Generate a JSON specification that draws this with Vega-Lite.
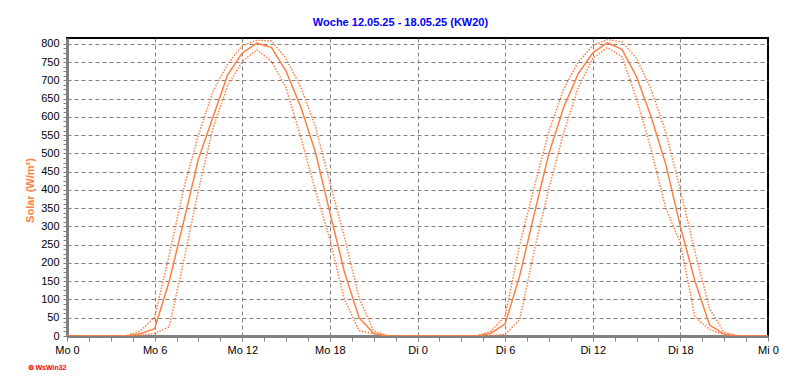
{
  "$schema": "https://vega.github.io/schema/vega-lite/v6.json",
  "width": 701,
  "height": 298,
  "autosize": {"type": "none"},
  "padding": {"left": 67, "top": 38, "right": 24, "bottom": 51},
  "background": "white",
  "config": {
    "font": "Liberation Sans",
    "view": {"stroke": "black", "strokeWidth": 2}
  },
  "title": {
    "text": "Woche 12.05.25 - 18.05.25 (KW20)",
    "color": "#0000FF",
    "fontSize": 11,
    "fontWeight": "bold",
    "font": "Liberation Sans",
    "anchor": "middle",
    "frame": "group",
    "dx": -17,
    "offset": 10
  },
  "data": {
    "values": [
      {"h": 0, "s": "Mittel", "v": 0}, {"h": 1, "s": "Mittel", "v": 0}, {"h": 2, "s": "Mittel", "v": 0}, {"h": 3, "s": "Mittel", "v": 0},
      {"h": 4, "s": "Mittel", "v": 0}, {"h": 5, "s": "Mittel", "v": 6}, {"h": 6, "s": "Mittel", "v": 20}, {"h": 7, "s": "Mittel", "v": 150},
      {"h": 8, "s": "Mittel", "v": 315}, {"h": 9, "s": "Mittel", "v": 485}, {"h": 10, "s": "Mittel", "v": 600}, {"h": 11, "s": "Mittel", "v": 715},
      {"h": 12, "s": "Mittel", "v": 775}, {"h": 13, "s": "Mittel", "v": 802}, {"h": 14, "s": "Mittel", "v": 790}, {"h": 15, "s": "Mittel", "v": 725},
      {"h": 16, "s": "Mittel", "v": 628}, {"h": 17, "s": "Mittel", "v": 505}, {"h": 18, "s": "Mittel", "v": 338}, {"h": 19, "s": "Mittel", "v": 175},
      {"h": 20, "s": "Mittel", "v": 50}, {"h": 21, "s": "Mittel", "v": 7}, {"h": 22, "s": "Mittel", "v": 0}, {"h": 23, "s": "Mittel", "v": 0},
      {"h": 24, "s": "Mittel", "v": 0}, {"h": 25, "s": "Mittel", "v": 0}, {"h": 26, "s": "Mittel", "v": 0}, {"h": 27, "s": "Mittel", "v": 0},
      {"h": 28, "s": "Mittel", "v": 0}, {"h": 29, "s": "Mittel", "v": 7}, {"h": 30, "s": "Mittel", "v": 33}, {"h": 31, "s": "Mittel", "v": 165},
      {"h": 32, "s": "Mittel", "v": 335}, {"h": 33, "s": "Mittel", "v": 500}, {"h": 34, "s": "Mittel", "v": 625}, {"h": 35, "s": "Mittel", "v": 718},
      {"h": 36, "s": "Mittel", "v": 775}, {"h": 37, "s": "Mittel", "v": 803}, {"h": 38, "s": "Mittel", "v": 785}, {"h": 39, "s": "Mittel", "v": 710},
      {"h": 40, "s": "Mittel", "v": 600}, {"h": 41, "s": "Mittel", "v": 470}, {"h": 42, "s": "Mittel", "v": 300}, {"h": 43, "s": "Mittel", "v": 150},
      {"h": 44, "s": "Mittel", "v": 30}, {"h": 45, "s": "Mittel", "v": 5}, {"h": 46, "s": "Mittel", "v": 0}, {"h": 47, "s": "Mittel", "v": 0},
      {"h": 48, "s": "Mittel", "v": 0},

      {"h": 0, "s": "Max", "v": 0}, {"h": 1, "s": "Max", "v": 0}, {"h": 2, "s": "Max", "v": 0}, {"h": 3, "s": "Max", "v": 0},
      {"h": 4, "s": "Max", "v": 0}, {"h": 5, "s": "Max", "v": 13}, {"h": 6, "s": "Max", "v": 52}, {"h": 7, "s": "Max", "v": 222},
      {"h": 8, "s": "Max", "v": 405}, {"h": 9, "s": "Max", "v": 550}, {"h": 10, "s": "Max", "v": 670}, {"h": 11, "s": "Max", "v": 745},
      {"h": 12, "s": "Max", "v": 795}, {"h": 13, "s": "Max", "v": 810}, {"h": 14, "s": "Max", "v": 808}, {"h": 15, "s": "Max", "v": 760},
      {"h": 16, "s": "Max", "v": 682}, {"h": 17, "s": "Max", "v": 575}, {"h": 18, "s": "Max", "v": 420}, {"h": 19, "s": "Max", "v": 270},
      {"h": 20, "s": "Max", "v": 105}, {"h": 21, "s": "Max", "v": 14}, {"h": 22, "s": "Max", "v": 0}, {"h": 23, "s": "Max", "v": 0},
      {"h": 24, "s": "Max", "v": 0}, {"h": 25, "s": "Max", "v": 0}, {"h": 26, "s": "Max", "v": 0}, {"h": 27, "s": "Max", "v": 0},
      {"h": 28, "s": "Max", "v": 0}, {"h": 29, "s": "Max", "v": 12}, {"h": 30, "s": "Max", "v": 55}, {"h": 31, "s": "Max", "v": 250},
      {"h": 32, "s": "Max", "v": 410}, {"h": 33, "s": "Max", "v": 560}, {"h": 34, "s": "Max", "v": 675}, {"h": 35, "s": "Max", "v": 750},
      {"h": 36, "s": "Max", "v": 795}, {"h": 37, "s": "Max", "v": 812}, {"h": 38, "s": "Max", "v": 805}, {"h": 39, "s": "Max", "v": 760},
      {"h": 40, "s": "Max", "v": 675}, {"h": 41, "s": "Max", "v": 558}, {"h": 42, "s": "Max", "v": 400}, {"h": 43, "s": "Max", "v": 230},
      {"h": 44, "s": "Max", "v": 75}, {"h": 45, "s": "Max", "v": 10}, {"h": 46, "s": "Max", "v": 0}, {"h": 47, "s": "Max", "v": 0},
      {"h": 48, "s": "Max", "v": 0},

      {"h": 0, "s": "Min", "v": 0}, {"h": 1, "s": "Min", "v": 0}, {"h": 2, "s": "Min", "v": 0}, {"h": 3, "s": "Min", "v": 0},
      {"h": 4, "s": "Min", "v": 0}, {"h": 5, "s": "Min", "v": 2}, {"h": 6, "s": "Min", "v": 7}, {"h": 7, "s": "Min", "v": 25},
      {"h": 8, "s": "Min", "v": 207}, {"h": 9, "s": "Min", "v": 400}, {"h": 10, "s": "Min", "v": 570}, {"h": 11, "s": "Min", "v": 685},
      {"h": 12, "s": "Min", "v": 752}, {"h": 13, "s": "Min", "v": 784}, {"h": 14, "s": "Min", "v": 752}, {"h": 15, "s": "Min", "v": 680},
      {"h": 16, "s": "Min", "v": 545}, {"h": 17, "s": "Min", "v": 400}, {"h": 18, "s": "Min", "v": 265}, {"h": 19, "s": "Min", "v": 100},
      {"h": 20, "s": "Min", "v": 15}, {"h": 21, "s": "Min", "v": 6}, {"h": 22, "s": "Min", "v": 0}, {"h": 23, "s": "Min", "v": 0},
      {"h": 24, "s": "Min", "v": 0}, {"h": 25, "s": "Min", "v": 0}, {"h": 26, "s": "Min", "v": 0}, {"h": 27, "s": "Min", "v": 0},
      {"h": 28, "s": "Min", "v": 0}, {"h": 29, "s": "Min", "v": 1}, {"h": 30, "s": "Min", "v": 5}, {"h": 31, "s": "Min", "v": 45},
      {"h": 32, "s": "Min", "v": 235}, {"h": 33, "s": "Min", "v": 405}, {"h": 34, "s": "Min", "v": 555}, {"h": 35, "s": "Min", "v": 680},
      {"h": 36, "s": "Min", "v": 760}, {"h": 37, "s": "Min", "v": 790}, {"h": 38, "s": "Min", "v": 765}, {"h": 39, "s": "Min", "v": 650},
      {"h": 40, "s": "Min", "v": 510}, {"h": 41, "s": "Min", "v": 350}, {"h": 42, "s": "Min", "v": 255}, {"h": 43, "s": "Min", "v": 52},
      {"h": 44, "s": "Min", "v": 18}, {"h": 45, "s": "Min", "v": 3}, {"h": 46, "s": "Min", "v": 0}, {"h": 47, "s": "Min", "v": 0},
      {"h": 48, "s": "Min", "v": 0}
    ]
  },
  "mark": {"type": "line", "color": "#FF7F40", "strokeWidth": 1.5, "clip": true},
  "encoding": {
    "x": {
      "field": "h",
      "type": "quantitative",
      "scale": {"domain": [0, 48], "nice": false, "zero": false},
      "axis": {
        "values": [0, 1.5, 3, 4.5, 6, 7.5, 9, 10.5, 12, 13.5, 15, 16.5, 18, 19.5, 21, 22.5, 24, 25.5, 27, 28.5, 30, 31.5, 33, 34.5, 36, 37.5, 39, 40.5, 42, 43.5, 45, 46.5, 48],
        "labelExpr": "datum.value % 6 !== 0 ? '' : (datum.value < 24 ? 'Mo ' + datum.value : (datum.value < 48 ? 'Di ' + (datum.value - 24) : 'Mi 0'))",
        "labelFont": "Liberation Sans",
        "labelFontSize": 11,
        "labelColor": "black",
        "labelPadding": 3,
        "labelFlush": false,
        "labelOverlap": false,
        "domainColor": "#808080",
        "domainWidth": 3,
        "tickColor": "#808080",
        "tickSize": 5,
        "tickWidth": 1,
        "grid": true,
        "gridColor": "#808080",
        "gridDash": [4, 3],
        "gridWidth": 1,
        "gridOpacity": {"condition": {"test": "datum.value % 6 === 0 && datum.value > 0 && datum.value < 48", "value": 1}, "value": 0},
        "title": "⚙ WsWin32",
        "titleFont": "Liberation Sans",
        "titleFontSize": 7,
        "titleFontWeight": "bold",
        "titleColor": "#FF0000",
        "titleAlign": "left",
        "titleBaseline": "middle",
        "titleX": -40,
        "titleY": 31
      }
    },
    "y": {
      "field": "v",
      "type": "quantitative",
      "scale": {"domain": [0, 816], "nice": false},
      "axis": {
        "values": [0, 12.5, 25, 37.5, 50, 62.5, 75, 87.5, 100, 112.5, 125, 137.5, 150, 162.5, 175, 187.5, 200, 212.5, 225, 237.5, 250, 262.5, 275, 287.5, 300, 312.5, 325, 337.5, 350, 362.5, 375, 387.5, 400, 412.5, 425, 437.5, 450, 462.5, 475, 487.5, 500, 512.5, 525, 537.5, 550, 562.5, 575, 587.5, 600, 612.5, 625, 637.5, 650, 662.5, 675, 687.5, 700, 712.5, 725, 737.5, 750, 762.5, 775, 787.5, 800],
        "labelExpr": "datum.value % 50 !== 0 ? '' : datum.label",
        "labelFont": "Liberation Sans",
        "labelFontSize": 11,
        "labelColor": "black",
        "labelPadding": 4,
        "labelOverlap": false,
        "domainColor": "#808080",
        "domainWidth": 3,
        "tickColor": "#808080",
        "tickSize": 4,
        "tickWidth": 1,
        "grid": true,
        "gridColor": "#808080",
        "gridDash": [4, 3],
        "gridWidth": 1,
        "gridOpacity": {"condition": {"test": "datum.value % 50 === 0 && datum.value > 0", "value": 1}, "value": 0},
        "title": "Solar (W/m²)",
        "titleFont": "Liberation Sans",
        "titleFontSize": 11,
        "titleFontWeight": "bold",
        "titleColor": "#FF7F40",
        "titleX": -37,
        "titleY": 152,
        "titleAngle": -90,
        "titleAlign": "center",
        "titleBaseline": "middle"
      }
    },
    "detail": {"field": "s", "type": "nominal"},
    "strokeDash": {
      "field": "s",
      "type": "nominal",
      "scale": {"domain": ["Mittel", "Max", "Min"], "range": [[1, 0], [1.5, 1.5], [1.5, 1.5]]},
      "legend": null
    }
  }
}
